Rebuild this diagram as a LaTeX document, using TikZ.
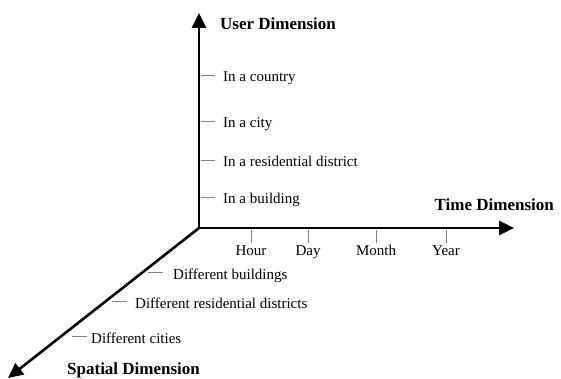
\documentclass[tikz,border=0pt]{standalone}
\usepackage{fontspec}
\setmainfont{Liberation Serif}
\usetikzlibrary{arrows.meta}
\begin{document}
\begin{tikzpicture}[x=1pt,y=-1pt,
  axis/.style={line width=2.6pt,-{Triangle[length=15pt,width=14pt]}},
  tick/.style={gray,line width=0.8pt},
  lbl/.style={font=\fontsize{15}{18}\selectfont,inner sep=0pt},
  ttl/.style={font=\fontsize{17}{20}\selectfont\bfseries,inner sep=0pt}]
\useasboundingbox (0,0) rectangle (561,379);
\coordinate (O) at (199,228);
\coordinate (U) at (199,13);
\coordinate (T) at (514,228);
\coordinate (S) at (8,378);
\draw[axis] (O) -- (U);
\draw[axis] (O) -- (T);
\draw[axis] (O) -- (S);
% user ticks
\foreach \y/\t/\n in {75/In a country/u1,121/In a city/u2,160/In a residential district/u3,197/In a building/u4}{
  \coordinate (\n a) at (201,\y);
  \coordinate (\n b) at (215,\y);
  \draw[tick] (\n a) -- (\n b);
  \node[lbl,anchor=base west] (\n) at (223,\y+6.5) {\t};
}
% time ticks
\foreach \x/\t/\n in {251/Hour/t1,308/Day/t2,376/Month/t3,446/Year/t4}{
  \coordinate (\n a) at (\x,230);
  \coordinate (\n b) at (\x,243);
  \draw[tick] (\n a) -- (\n b);
  \node[lbl,anchor=base] (\n) at (\x,255) {\t};
}
% spatial ticks
\foreach \x/\y/\lx/\t/\n in {148/272/173/Different buildings/s1,112/301/135/Different residential districts/s2,72/336/91/Different cities/s3}{
  \coordinate (\n a) at (\x,\y);
  \coordinate (\n b) at (\x+15,\y);
  \draw[tick] (\n a) -- (\n b);
  \node[lbl,anchor=base west] (\n) at (\lx,\y+7) {\t};
}
\node[ttl,anchor=base west] (ut) at (220,29.5) {User Dimension};
\node[ttl,anchor=base east] (tt) at (554,210) {Time Dimension};
\node[ttl,anchor=base west] (st) at (67,374.5) {Spatial Dimension};
\end{tikzpicture}
\end{document}
